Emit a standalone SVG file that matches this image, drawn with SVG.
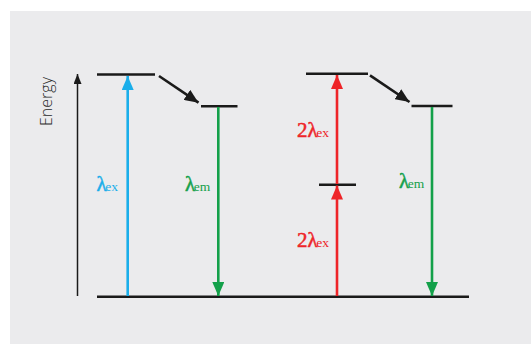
<svg xmlns="http://www.w3.org/2000/svg" width="531" height="344" viewBox="0 0 531 344">
  <defs>
    <style>
      .level { stroke: #1a1a1a; stroke-width: 2.6; fill: none; }
      .blue { stroke: #1aaeea; stroke-width: 2.6; fill: none; }
      .green { stroke: #13a04a; stroke-width: 2.6; fill: none; }
      .red { stroke: #ee2428; stroke-width: 2.6; fill: none; }
      .relax { stroke: #1a1a1a; stroke-width: 2.6; fill: none; }
      .axis { stroke: #1a1a1a; stroke-width: 1.5; fill: none; }
      .lbl { font-family: "Liberation Serif", "Times New Roman", serif; }
      .sym { font-size: 21px; stroke-width: 0.5; }
      .sub { font-size: 13.5px; }
      .c-blue { fill: #1aaeea; stroke: #1aaeea; }
      .c-green { fill: #13a04a; stroke: #13a04a; }
      .c-red { fill: #ee2428; stroke: #ee2428; }
      .sub { stroke: none; }
    </style>
    <!-- arrowheads drawn pointing along +x so orient="auto" follows the line -->
    <marker id="headBlue" markerUnits="userSpaceOnUse" markerWidth="14" markerHeight="12" viewBox="0 0 14 12" refX="14" refY="6" orient="auto">
      <path d="M0,0 L14,6 L0,12 Z" fill="#1aaeea"/>
    </marker>
    <marker id="headGreen" markerUnits="userSpaceOnUse" markerWidth="14" markerHeight="12" viewBox="0 0 14 12" refX="14" refY="6" orient="auto">
      <path d="M0,0 L14,6 L0,12 Z" fill="#13a04a"/>
    </marker>
    <marker id="headRed" markerUnits="userSpaceOnUse" markerWidth="14" markerHeight="12" viewBox="0 0 14 12" refX="14" refY="6" orient="auto">
      <path d="M0,0 L14,6 L0,12 Z" fill="#ee2428"/>
    </marker>
    <marker id="headBlack" markerUnits="userSpaceOnUse" markerWidth="14" markerHeight="12" viewBox="0 0 14 12" refX="14" refY="6" orient="auto">
      <path d="M0,0 L14,6 L0,12 Z" fill="#1a1a1a"/>
    </marker>
    <marker id="headAxis" markerUnits="userSpaceOnUse" markerWidth="10" markerHeight="8" viewBox="0 0 10 8" refX="10" refY="4" orient="auto">
      <path d="M0,0 L10,4 L0,8 Z" fill="#1a1a1a"/>
    </marker>
  </defs>

  <!-- page and grey panel -->
  <rect x="0" y="0" width="531" height="344" fill="#ffffff"/>
  <rect x="10" y="11" width="521" height="333" fill="#ebebed"/>

  <!-- energy axis -->
  <g id="axis">
    <line class="axis" x1="77.5" y1="296" x2="77.5" y2="74" marker-end="url(#headAxis)"/>
    <text x="0" y="0" transform="translate(52,101.5) rotate(-90)" text-anchor="middle" font-family="'Open Sans', 'Liberation Sans', sans-serif" font-weight="300" font-size="16" fill="#2a2a2a">Energy</text>
  </g>

  <!-- energy levels -->
  <g id="ground">
    <line class="level" x1="97" y1="296.7" x2="469" y2="296.7"/>
  </g>
  <g id="excited-left">
    <line class="level" x1="97" y1="74.5" x2="155" y2="74.5"/>
  </g>
  <g id="relaxed-left">
    <line class="level" x1="201" y1="106.3" x2="237.5" y2="106.3"/>
  </g>
  <g id="excited-right">
    <line class="level" x1="306" y1="73.7" x2="368" y2="73.7"/>
  </g>
  <g id="virtual-right">
    <line class="level" x1="319" y1="184.7" x2="356" y2="184.7"/>
  </g>
  <g id="relaxed-right">
    <line class="level" x1="411.5" y1="106" x2="452.5" y2="106"/>
  </g>

  <!-- transitions -->
  <g id="connectors">
    <line class="blue" x1="127.7" y1="296" x2="127.7" y2="76" marker-end="url(#headBlue)"/>
    <line class="green" x1="218.3" y1="107" x2="218.3" y2="296" marker-end="url(#headGreen)"/>
    <line class="relax" x1="159" y1="76" x2="198.5" y2="102.7" marker-end="url(#headBlack)"/>
    <line class="red" x1="337" y1="296" x2="337" y2="185.5" marker-end="url(#headRed)"/>
    <line class="red" x1="337" y1="184" x2="337" y2="75" marker-end="url(#headRed)"/>
    <line class="green" x1="432" y1="107" x2="432" y2="296" marker-end="url(#headGreen)"/>
    <line class="relax" x1="370" y1="75.3" x2="409.5" y2="102" marker-end="url(#headBlack)"/>
  </g>

  <!-- transition labels -->
  <g id="labels">
    <text class="lbl c-blue" x="96.5" y="190.5"><tspan class="sym">λ</tspan><tspan class="sub" dx="-1.5">ex</tspan></text>
    <text class="lbl c-green" x="185" y="190.5"><tspan class="sym">λ</tspan><tspan class="sub" dx="-1.5">em</tspan></text>
    <text class="lbl c-red" x="297" y="137.3"><tspan class="sym">2λ</tspan><tspan class="sub" dx="-1.5">ex</tspan></text>
    <text class="lbl c-red" x="297" y="246.7"><tspan class="sym">2λ</tspan><tspan class="sub" dx="-1.5">ex</tspan></text>
    <text class="lbl c-green" x="399" y="188.3"><tspan class="sym">λ</tspan><tspan class="sub" dx="-1.5">em</tspan></text>
  </g>
</svg>
